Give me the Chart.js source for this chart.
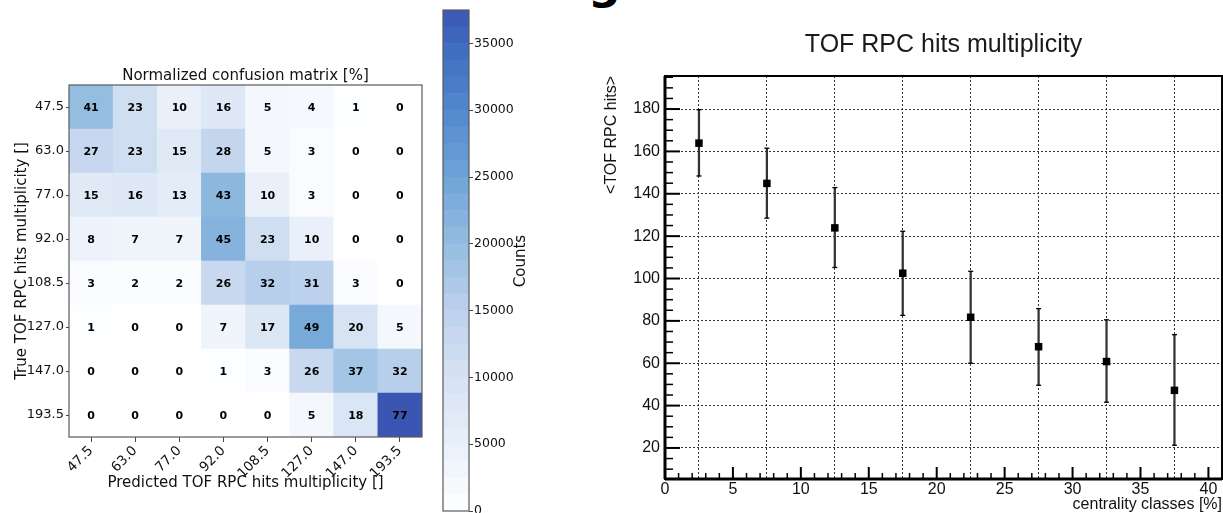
<!DOCTYPE html>
<html>
<head>
<meta charset="utf-8">
<script src="https://cdn.jsdelivr.net/npm/chart.js@4.4.1/dist/chart.umd.min.js"></script>
<style>
  html, body { margin: 0; padding: 0; background: #fff; }
  body { width: 1223px; height: 513px; position: relative; overflow: hidden; }
  canvas { position: absolute; top: 0; }
  #matrix { left: 0; }
  #colorbar { left: 430px; }
  #tof { left: 600px; }
  /* tail of the slide heading, cut by the top edge */
  #heading { position: absolute; left: 588px; top: -41px; font: bold 46px/1 "DejaVu Sans", sans-serif; color: #000; }
</style>
</head>
<body>
<div id="heading">g</div>
<canvas id="matrix" width="440" height="513"></canvas>
<canvas id="colorbar" width="120" height="513"></canvas>
<canvas id="tof" width="623" height="513"></canvas>
<script>
// multiplicity classes, used for both true (rows) and predicted (columns)
const multLabels = ['47.5', '63.0', '77.0', '92.0', '108.5', '127.0', '147.0', '193.5'];
// normalized confusion matrix in %, rows = true class top to bottom
const confusion = [
  [41, 23, 10, 16, 5, 4, 1, 0],
  [27, 23, 15, 28, 5, 3, 0, 0],
  [15, 16, 13, 43, 10, 3, 0, 0],
  [8, 7, 7, 45, 23, 10, 0, 0],
  [3, 2, 2, 26, 32, 31, 3, 0],
  [1, 0, 0, 7, 17, 49, 20, 5],
  [0, 0, 0, 1, 3, 26, 37, 32],
  [0, 0, 0, 0, 0, 5, 18, 77]
];
const countTicks = [0, 5000, 10000, 15000, 20000, 25000, 30000, 35000];
const countMax = 37500;
const colorLevels = 30;

// mean TOF RPC hits per centrality class
const centrality = [2.5, 7.5, 12.5, 17.5, 22.5, 27.5, 32.5, 37.5];
const meanHits = [163.9, 144.9, 123.9, 102.5, 81.7, 67.8, 60.8, 47.2];
const hitsLow = [148.4, 128.5, 105.2, 82.6, 60.0, 49.6, 41.6, 21.3];
const hitsHigh = [179.7, 161.5, 142.9, 122.3, 103.4, 85.8, 80.5, 73.5];
const centralityTicks = [0, 5, 10, 15, 20, 25, 30, 35, 40];
const hitsTicks = [20, 40, 60, 80, 100, 120, 140, 160, 180];

Chart.defaults.animation = false;
Chart.defaults.plugins.legend.display = false;
Chart.defaults.plugins.tooltip.enabled = false;

const MPL = '"DejaVu Sans", sans-serif';
const ROOTF = '"Liberation Sans", Arial, sans-serif';

// white -> light blue -> royal blue
const blueStops = [
  [0.000, '#ffffff'], [0.133, '#e9f0fa'], [0.267, '#d5e2f3'], [0.400, '#bdd1ec'],
  [0.533, '#94bde0'], [0.667, '#6fa3d7'], [0.800, '#5189cb'], [0.933, '#3e6abf'], [1.000, '#3a56b2']
];
function rgb(h) { return [1, 3, 5].map(i => parseInt(h.slice(i, i + 2), 16)); }
function cmap(t) {
  t = Math.max(0, Math.min(1, t));
  for (let i = 1; i < blueStops.length; i++) {
    if (t <= blueStops[i][0]) {
      const [t0, c0] = blueStops[i - 1], [t1, c1] = blueStops[i];
      const f = (t - t0) / (t1 - t0), a = rgb(c0), b = rgb(c1);
      return `rgb(${a.map((v, k) => Math.round(v + (b[k] - v) * f)).join(',')})`;
    }
  }
  return blueStops[blueStops.length - 1][1];
}

// keep the chart area where the layout padding puts it
function noEdgePadding(s) {
  s.paddingTop = 0; s.paddingBottom = 0; s.paddingLeft = 0; s.paddingRight = 0;
}

// ---------- confusion matrix ----------
const pctMax = Math.max(...confusion.flat());

const cellLabels = {
  id: 'cellLabels',
  afterDatasetsDraw(chart) {
    const ctx = chart.ctx;
    ctx.save();
    ctx.font = 'bold 11px ' + MPL;
    ctx.fillStyle = '#000';
    ctx.textAlign = 'center';
    ctx.textBaseline = 'middle';
    chart.data.datasets.forEach((ds, i) => {
      chart.getDatasetMeta(i).data.forEach((bar, j) => {
        const p = bar.getCenterPoint();
        ctx.fillText(String(ds.pct[j]), p.x, p.y + 1);
      });
    });
    ctx.restore();
  }
};

const boxFrame = {
  id: 'boxFrame',
  afterDraw(chart, args, opts) {
    const {left, top, right, bottom} = chart.chartArea;
    const ctx = chart.ctx;
    ctx.save();
    ctx.strokeStyle = opts.color || '#555';
    ctx.lineWidth = opts.width || 1;
    ctx.strokeRect(left, top, right - left, bottom - top);
    ctx.restore();
  }
};

// first dataset is stacked at the bottom, so rows go in reverse
const matrixSets = confusion.map((row, r) => ({
  label: multLabels[r],
  pct: row,
  data: row.map(() => 1),
  backgroundColor: row.map(v => cmap(v / pctMax)),
  borderWidth: 0,
  barPercentage: 1,
  categoryPercentage: 1
})).reverse();

new Chart(document.getElementById('matrix'), {
  type: 'bar',
  data: { labels: multLabels, datasets: matrixSets },
  options: {
    responsive: false,
    layout: { autoPadding: false, padding: { left: 0, top: 67, right: 18, bottom: 0 } },
    plugins: {
      title: {
        display: true, fullSize: false,
        text: 'Normalized confusion matrix [%]',
        color: '#111', font: { family: MPL, size: 15, weight: 'normal' },
        padding: { top: 0, bottom: 0 }
      },
      boxFrame: { color: '#5a5a5a', width: 1.2 }
    },
    scales: {
      x: {
        stacked: true,
        grid: { offset: false, drawOnChartArea: false, tickLength: 5, tickColor: '#444' },
        border: { display: false },
        ticks: { minRotation: 45, maxRotation: 45, padding: 1, color: '#111', font: { family: MPL, size: 13.5 } },
        title: {
          display: true, text: 'Predicted TOF RPC hits multiplicity []',
          color: '#111', font: { family: MPL, size: 15 }, padding: { top: 0, bottom: 21 }
        },
        afterFit(s) { s.height = 76; noEdgePadding(s); }
      },
      y: {
        stacked: true, min: 0, max: 8,
        afterBuildTicks(s) { s.ticks = multLabels.map((_, i) => ({ value: i + 0.5 })); },
        grid: { drawOnChartArea: false, tickLength: 3, tickColor: '#444' },
        border: { display: false },
        ticks: {
          padding: 2, color: '#111', font: { family: MPL, size: 13 },
          callback: v => multLabels[7 - Math.floor(v)]
        },
        title: {
          display: true, text: 'True TOF RPC hits multiplicity []',
          color: '#111', font: { family: MPL, size: 15 }, padding: { top: 13, bottom: 0 }
        },
        afterFit(s) { s.width = 69; noEdgePadding(s); }
      }
    }
  },
  plugins: [cellLabels, boxFrame]
});

// ---------- colour bar ----------
const countsLabel = {
  id: 'countsLabel',
  afterDraw(chart) {
    const ctx = chart.ctx;
    ctx.save();
    ctx.translate(91, 261);
    ctx.rotate(-Math.PI / 2);
    ctx.font = '15px ' + MPL;
    ctx.fillStyle = '#111';
    ctx.textAlign = 'center';
    ctx.textBaseline = 'middle';
    ctx.fillText('Counts', 0, 0);
    ctx.restore();
  }
};

const bandSize = countMax / colorLevels;
const bandSets = [];
for (let k = 0; k < colorLevels; k++) {
  bandSets.push({
    data: [bandSize],
    backgroundColor: cmap((k + 0.5) / colorLevels),
    borderWidth: 0, barPercentage: 1, categoryPercentage: 1
  });
}

new Chart(document.getElementById('colorbar'), {
  type: 'bar',
  data: { labels: [''], datasets: bandSets },
  options: {
    responsive: false,
    layout: { autoPadding: false, padding: { left: 13, top: 10, right: 0, bottom: 2 } },
    plugins: { boxFrame: { color: '#5a5a5a', width: 1.2 } },
    scales: {
      x: { display: false, stacked: true },
      y: {
        position: 'right', stacked: true, min: 0, max: countMax,
        afterBuildTicks(s) { s.ticks = countTicks.map(v => ({ value: v })); },
        grid: { drawOnChartArea: false, tickLength: 4, tickColor: '#444' },
        border: { display: false },
        ticks: { padding: 1, color: '#111', font: { family: MPL, size: 12.5 }, callback: v => String(v) },
        afterFit(s) { s.width = 81; noEdgePadding(s); }
      }
    }
  },
  plugins: [boxFrame, countsLabel]
});

// ---------- TOF RPC hits vs centrality ----------
const rootAxes = {
  id: 'rootAxes',
  afterDraw(chart) {
    const {left, top, right, bottom} = chart.chartArea;
    const xs = chart.scales.x, ys = chart.scales.y;
    const ctx = chart.ctx;
    ctx.save();
    ctx.strokeStyle = '#000';
    const tick = (x1, y1, x2, y2, w) => {
      ctx.lineWidth = w;
      ctx.beginPath(); ctx.moveTo(x1, y1); ctx.lineTo(x2, y2); ctx.stroke();
    };
    // y ticks: major every 20, minor every 5, pointing inwards
    for (let v = Math.ceil(ys.min / 5) * 5; v <= ys.max; v += 5) {
      const y = ys.getPixelForValue(v);
      const major = v % 20 === 0;
      tick(left, y, left + (major ? 15 : 8), y, major ? 2 : 1.5);
    }
    // x ticks: major every 5, minor every 1
    for (let v = 1; v <= xs.max; v += 1) {
      const x = xs.getPixelForValue(v);
      const major = v % 5 === 0;
      tick(x, bottom, x, bottom - (major ? 12 : 6), major ? 2 : 1.5);
    }
    // error bar caps
    chart.getDatasetMeta(1).data.forEach(bar => {
      tick(bar.x - 2.5, bar.y, bar.x + 2.5, bar.y, 1.3);
      tick(bar.x - 2.5, bar.base, bar.x + 2.5, bar.base, 1.3);
    });
    // frame
    ctx.lineWidth = 2;
    ctx.strokeRect(left, top, right - left, bottom - top);
    tick(left, top, left, bottom, 3);
    tick(left, bottom, right, bottom, 3);
    ctx.restore();
  }
};

new Chart(document.getElementById('tof'), {
  type: 'scatter',
  data: {
    datasets: [
      {
        type: 'scatter',
        data: centrality.map((x, i) => ({ x, y: meanHits[i] })),
        pointStyle: 'rect', pointRadius: 5.3, borderWidth: 0,
        backgroundColor: '#000', order: 0
      },
      {
        type: 'bar',
        data: centrality.map((x, i) => ({ x, y: [hitsLow[i], hitsHigh[i]] })),
        backgroundColor: '#333', borderWidth: 0, barThickness: 1.6, order: 1
      }
    ]
  },
  options: {
    responsive: false,
    layout: { autoPadding: false, padding: { left: 0, top: 0, right: 1, bottom: 0 } },
    plugins: {
      title: {
        display: true, fullSize: false,
        text: 'TOF RPC hits multiplicity',
        color: '#1a1a1a', font: { family: ROOTF, size: 25, weight: 'normal' },
        padding: { top: 30, bottom: 16 }
      }
    },
    scales: {
      x: {
        type: 'linear', min: 0, max: 41, offset: false,
        afterBuildTicks(s) { s.ticks = centralityTicks.map(v => ({ value: v })); },
        grid: { color: '#333', lineWidth: 1, drawTicks: false },
        border: { display: false, dash: [2, 2] },
        ticks: { padding: 1, color: '#111', font: { family: ROOTF, size: 16 } },
        title: {
          display: true, align: 'end', text: 'centrality classes [%]',
          color: '#111', font: { family: ROOTF, size: 16, lineHeight: 1 }, padding: { top: 0, bottom: 0 }
        },
        afterFit(s) { s.height = 34; noEdgePadding(s); }
      },
      y: {
        type: 'linear', min: 5.35, max: 195.6, beginAtZero: false,
        afterBuildTicks(s) { s.ticks = hitsTicks.map(v => ({ value: v })); },
        grid: { color: '#333', lineWidth: 1, drawTicks: false },
        border: { display: false, dash: [2, 2] },
        ticks: { padding: 5, color: '#111', font: { family: ROOTF, size: 16 } },
        title: {
          display: true, align: 'end', text: '<TOF RPC hits>',
          color: '#111', font: { family: ROOTF, size: 16, lineHeight: 1 }, padding: { top: 4, bottom: 0 }
        },
        afterFit(s) { s.width = 65; noEdgePadding(s); }
      }
    }
  },
  plugins: [rootAxes]
});
</script>
</body>
</html>
